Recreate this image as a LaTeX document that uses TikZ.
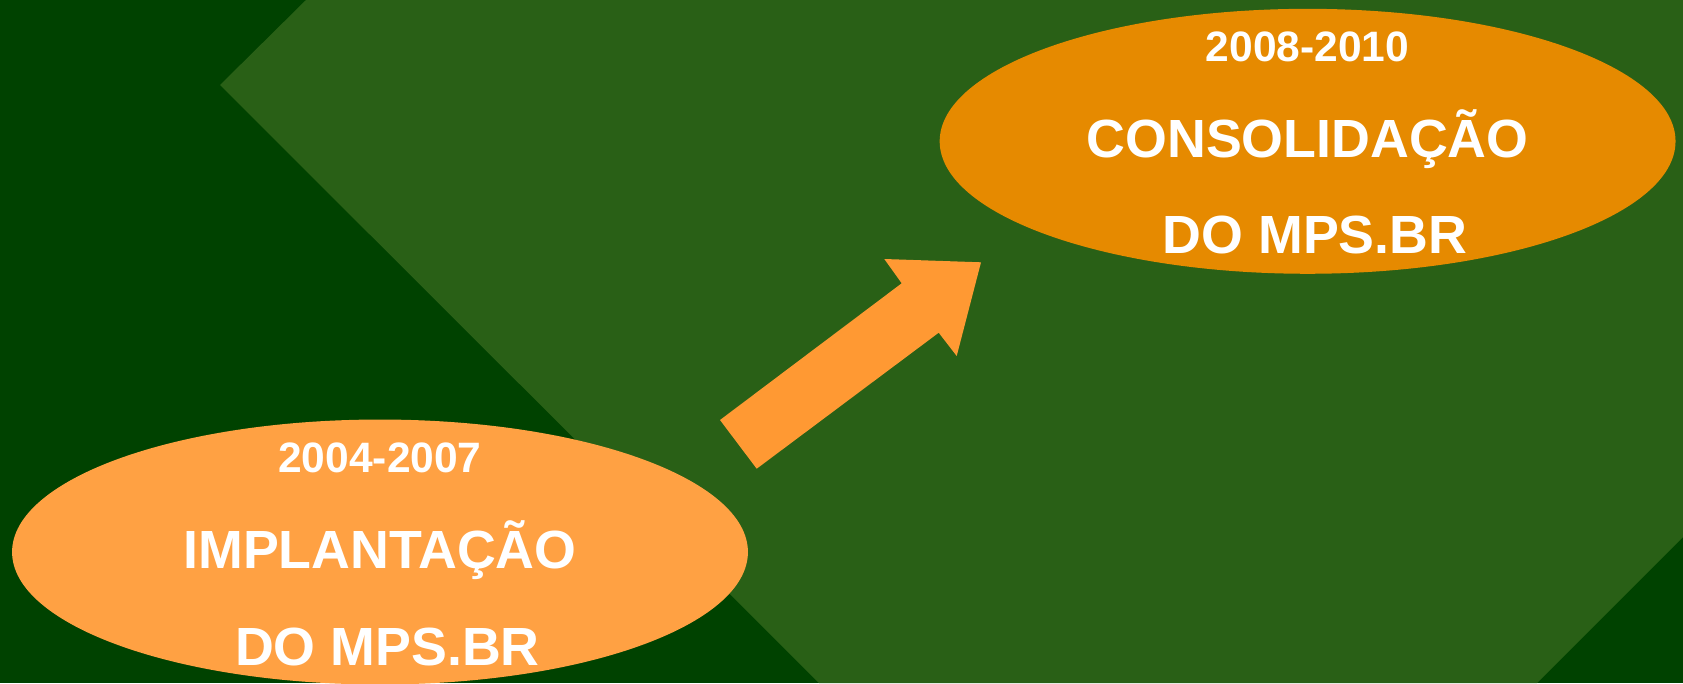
\documentclass[tikz,border=0pt]{standalone}
\usepackage{fontspec}
\setmainfont{Liberation Sans}
\usetikzlibrary{shapes.geometric}

\definecolor{bgdark}{RGB}{0,66,0}
\definecolor{bglight}{RGB}{41,96,22}
\definecolor{phaseold}{RGB}{255,161,67}
\definecolor{phasenew}{RGB}{230,138,0}
\definecolor{arrowfill}{RGB}{255,153,51}

\begin{document}
\begin{tikzpicture}[x=0.02cm,y=-0.02cm,
  phase/.style={ellipse,inner sep=0pt,minimum width=14.72cm,minimum height=5.3cm},
  year/.style={anchor=base,text=white,font=\bfseries\fontsize{24.2}{28}\selectfont},
  title/.style={anchor=base,text=white,font=\bfseries\fontsize{30.6}{36}\selectfont}]
  \useasboundingbox (0,0) rectangle (1683,683);
  % background
  \fill[bgdark] (0,0) rectangle (1683,683);
  \fill[bglight] (306,0) -- (1683,0) -- (1683,537) -- (1537,683)
        -- (819,683) -- (220,85) -- cycle;

  % phases
  \node[phase,fill=phaseold] (p1) at (380,552) {};
  \node[phase,fill=phasenew] (p2) at (1307.6,141.3) {};

  % arrow
  \fill[arrowfill] (720,420) -- (901.7,283.3) -- (884.3,259) -- (981,262.3)
        -- (956.7,356) -- (938.7,332.7) -- (756.7,468.7) -- cycle;

  \node[year]  (y1) at (380,472.5) {2004-2007};
  \node[title] (a1) at (380,568)   {IMPLANTAÇÃO};
  \node[title] (b1) at (387.5,665) {DO MPS.BR};

  \node[year]  (y2) at (1307.6,61)  {2008-2010};
  \node[title] (a2) at (1307.6,157) {CONSOLIDAÇÃO};
  \node[title] (b2) at (1315,253)   {DO MPS.BR};
\end{tikzpicture}
\end{document}
